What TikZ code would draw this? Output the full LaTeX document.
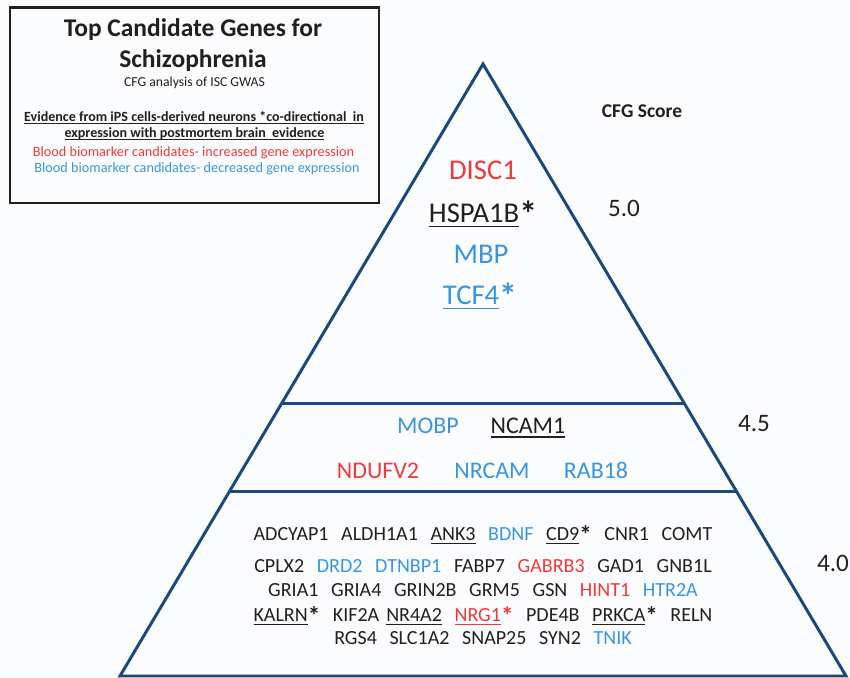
\documentclass[tikz,border=0pt]{standalone}
\usepackage{fontspec}
\setmainfont{Carlito}
\usetikzlibrary{calc,positioning}

\definecolor{pyrline}{RGB}{26,74,122}
\definecolor{upred}{RGB}{240,58,58}
\definecolor{downblue}{RGB}{58,150,220}
\definecolor{inkgray}{RGB}{35,31,32}
\definecolor{paper}{RGB}{251,252,254}

%% underline close to the baseline, through descenders
\newcommand{\gul}[1]{\vtop{\hbox{\smash{#1}}\kern0.09em\hrule height 0.065em}}
\newcommand{\gast}{\raisebox{-0.13em}{\scalebox{1.25}{\textbf{*}}}}
\newcommand{\up}[1]{\textcolor{upred}{#1}}
\newcommand{\dn}[1]{\textcolor{downblue}{#1}}
\newcommand{\gsep}{\hspace{0.63em}}

\tikzset{
  legendtxt/.style={anchor=base,inner sep=0pt,text=inkgray,font=\fontsize{8.1}{9}\selectfont},
  topgene/.style={anchor=base,inner sep=0pt,text=inkgray,font=\fontsize{16.3}{18}\selectfont},
  midgene/.style={anchor=base,inner sep=0pt,text=inkgray,font=\fontsize{13.6}{16}\selectfont},
  lowgene/.style={anchor=base,inner sep=0pt,text=inkgray,font=\fontsize{11.4}{13}\selectfont},
  score/.style={anchor=base,inner sep=0pt,text=inkgray,font=\fontsize{14.3}{16}\selectfont},
  pyramid/.style={draw=pyrline,line width=1.7pt},
}

\begin{document}
\begin{tikzpicture}[x=0.02cm,y=-0.02cm]

  \path[fill=paper,use as bounding box] (0,0) rectangle (850,678);

  %% legend box
  \draw[line width=1.7pt,draw=inkgray] (10,8) rectangle (379,203);
  \node (title_1) [legendtxt,font=\bfseries\fontsize{14.5}{17}\selectfont] at(193,37) {Top Candidate Genes for};
  \node (title_2) [legendtxt,font=\bfseries\fontsize{14.5}{17}\selectfont] at(193,68) {Schizophrenia};
  \node (sub_title) [legendtxt,font=\fontsize{7.8}{9}\selectfont] at(194.5,87) {CFG analysis of ISC GWAS};
  \node (evidence_1) [legendtxt,font=\bfseries\fontsize{8}{9}\selectfont] at(194,122) {\gul{Evidence from iPS cells-derived neurons *co-directional\ \ in}};
  \node (evidence_2) [legendtxt,font=\bfseries\fontsize{8}{9}\selectfont] at(194.5,138) {\gul{expression with postmortem brain\ \ evidence}};
  \node (key_up) [legendtxt,text=upred] at(193.5,157) {Blood biomarker candidates- increased gene expression};
  \node (key_down) [legendtxt,text=downblue] at(197,173) {Blood biomarker candidates- decreased gene expression};

  %% pyramid
  \coordinate (apex) at (483,64);
  \coordinate (base_l) at (120,676);
  \coordinate (base_r) at (846,676);
  \draw[pyramid] (apex) -- (base_l) -- (base_r) -- cycle;
  \draw[pyramid] ($(apex)!0.554!(base_l)$) -- ($(apex)!0.554!(base_r)$);
  \draw[pyramid] ($(apex)!0.699!(base_l)$) -- ($(apex)!0.699!(base_r)$);

  %% top tier
  \node (disc1) [topgene,text=upred] at(483,180) {DISC1};
  \node (hspa1b) [topgene] at(483,223) {\gul{HSPA1B}\gast};
  \node (mbp) [topgene,text=downblue] at(481,264) {MBP};
  \node (tcf4) [topgene,text=downblue] at(480,305) {\gul{TCF4}\gast};

  %% middle tier
  \node (mobp) [midgene,text=downblue] at(428,434) {MOBP};
  \node (ncam1) [midgene] at(528,434) {\gul{NCAM1}};
  \node (ndufv2) [midgene,text=upred] at(378,479) {NDUFV2};
  \node (nrcam) [midgene,text=downblue] at(492,479) {NRCAM};
  \node (rab18) [midgene,text=downblue] at(596,479) {RAB18};

  %% bottom tier
  \foreach \i/\y/\genes in {
      1/541/{ADCYAP1\gsep ALDH1A1\gsep \gul{ANK3}\gsep \dn{BDNF}\gsep \gul{CD9}\gast\gsep CNR1\gsep COMT},
      2/573/{CPLX2\gsep \dn{DRD2}\gsep \dn{DTNBP1}\gsep FABP7\gsep \up{GABRB3}\gsep GAD1\gsep GNB1L},
      3/597/{GRIA1\gsep GRIA4\gsep GRIN2B\gsep GRM5\gsep GSN\gsep \up{HINT1}\gsep \dn{HTR2A}},
      4/622/{\gul{KALRN}\gast\gsep KIF2A\hspace{0.35em}\gul{NR4A2}\gsep \up{\gul{NRG1}\gast}\gsep PDE4B\gsep \gul{PRKCA}\gast\gsep RELN},
      5/645/{RGS4\gsep SLC1A2\gsep SNAP25\gsep SYN2\gsep \dn{TNIK}}}
    {
      \node (row_\i) [lowgene] at(483,\y) {\genes};
    }

  %% scores
  \node (cfg_score) [score,font=\bfseries\fontsize{11.1}{13}\selectfont] at(642,118) {CFG Score};
  \node (score_5) [score] at(624,217) {5.0};
  \node (score_45) [score] at(754,432) {4.5};
  \node (score_4) [score] at(833,572) {4.0};

\end{tikzpicture}
\end{document}
